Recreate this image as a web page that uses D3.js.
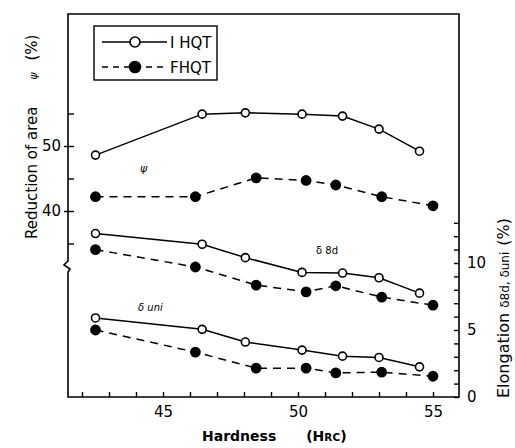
<!DOCTYPE html>
<html>
<head>
<meta charset="utf-8">
<script src="https://cdn.jsdelivr.net/npm/d3@7"></script>
<style>
  body { margin: 0; background: #fff; }
  text { font-family: "DejaVu Sans", sans-serif; fill: #000; }
</style>
</head>
<body>
<script>
// hardness values (HRC) for each heat treatment
var hrcIHQT = [42.5, 46.45, 48.05, 50.15, 51.65, 53.0, 54.5];
var hrcFHQT = [42.5, 46.2, 48.45, 50.3, 51.4, 53.1, 55.0];

// reduction of area psi (%), left axis
var psiIHQT = [48.6, 54.9, 55.1, 54.9, 54.6, 52.6, 49.2];
var psiFHQT = [42.2, 42.2, 45.1, 44.7, 44.0, 42.2, 40.8];

// elongation (%), right axis
var d8dIHQT = [12.2, 11.4, 10.4, 9.3, 9.25, 8.9, 7.75];
var d8dFHQT = [11.0, 9.7, 8.35, 7.85, 8.3, 7.45, 6.85];
var duniIHQT = [5.9, 5.05, 4.1, 3.5, 3.05, 2.95, 2.25];
var duniFHQT = [5.0, 3.35, 2.15, 2.15, 1.8, 1.85, 1.55];

var xTicks = [42, 43, 44, 45, 46, 47, 48, 49, 50, 51, 52, 53, 54, 55];
var xLabels = [45, 50, 55];
var psiTicks = [35, 40, 45, 50, 55];
var psiLabels = [40, 50];
var elTicks = d3.range(0, 14);
var elLabels = [0, 5, 10];

var width = 515, height = 448;
// plot frame (note: "top" is reserved on window, so use box*)
var boxL = 68, boxR = 459, boxT = 14, boxB = 397;

var svg = d3.select("body").append("svg")
    .attr("width", width)
    .attr("height", height);

var x = d3.scaleLinear().domain([45, 55]).range([163, 433]);
var yPsi = d3.scaleLinear().domain([40, 50]).range([211, 146]);
var yEl = d3.scaleLinear().domain([0, 10]).range([397, 263]);

// frame, left side has the axis break
svg.append("path")
    .attr("d", `M${boxL},${boxT} H${boxR} V${boxB} H${boxL} V272 L${boxL+2},269 L${boxL-4},265 L${boxL},261 Z`)
    .attr("fill", "none")
    .attr("stroke", "#000")
    .attr("stroke-width", 1.6);

// bottom axis, ticks pointing in
var gx = svg.append("g")
    .attr("transform", `translate(0,${boxB})`)
    .call(d3.axisBottom(x).tickValues(xTicks).tickSizeInner(-5).tickSizeOuter(0).tickPadding(9)
        .tickFormat(d => xLabels.indexOf(d) >= 0 ? d : ""));
gx.select(".domain").remove();

var gl = svg.append("g")
    .attr("transform", `translate(${boxL},0)`)
    .call(d3.axisLeft(yPsi).tickValues(psiTicks).tickSizeInner(-6).tickSizeOuter(0).tickPadding(7)
        .tickFormat(d => psiLabels.indexOf(d) >= 0 ? d : ""));
gl.select(".domain").remove();
gl.selectAll(".tick").filter(d => psiLabels.indexOf(d) >= 0).append("line")
    .attr("x1", -4).attr("x2", 0).attr("stroke", "#000").attr("stroke-width", 1.4);

var gr = svg.append("g")
    .attr("transform", `translate(${boxR},0)`)
    .call(d3.axisRight(yEl).tickValues(elTicks).tickSizeInner(-5).tickSizeOuter(0).tickPadding(8)
        .tickFormat(d => elLabels.indexOf(d) >= 0 ? d : ""));
gr.select(".domain").remove();

[gx, gl, gr].forEach(g => {
    g.selectAll(".tick line").attr("stroke-width", 1.4);
    g.selectAll(".tick text").attr("font-size", 15).attr("font-family", "DejaVu Sans");
});

// axis titles
svg.append("text")
    .attr("x", 202).attr("y", 441)
    .attr("font-size", 14).attr("font-weight", "bold")
    .html('Hardness<tspan dx="30">(H</tspan><tspan font-size="10.5">RC</tspan>)');

svg.append("text")
    .attr("transform", "translate(37,239) rotate(-90)")
    .attr("font-size", 15)
    .html('Reduction of area <tspan dx="22" font-size="11" font-style="italic">ψ</tspan><tspan dx="12">(%)</tspan>');

svg.append("text")
    .attr("transform", "translate(509,398) rotate(-90)")
    .attr("font-size", 16)
    .html('Elongation <tspan font-size="12">δ8d, δuni</tspan><tspan dx="6">(%)</tspan>');

// series
var series = [
    { xs: hrcIHQT, ys: psiIHQT, y: yPsi, open: true },
    { xs: hrcFHQT, ys: psiFHQT, y: yPsi, open: false },
    { xs: hrcIHQT, ys: d8dIHQT, y: yEl, open: true },
    { xs: hrcFHQT, ys: d8dFHQT, y: yEl, open: false },
    { xs: hrcIHQT, ys: duniIHQT, y: yEl, open: true },
    { xs: hrcFHQT, ys: duniFHQT, y: yEl, open: false }
];

series.forEach(s => {
    var pts = s.xs.map((v, i) => [x(v), s.y(s.ys[i])]);
    svg.append("path")
        .attr("d", d3.line()(pts))
        .attr("fill", "none")
        .attr("stroke", "#000")
        .attr("stroke-width", 1.5)
        .attr("stroke-dasharray", s.open ? null : "8,6");
    svg.append("g").selectAll("circle")
        .data(pts)
        .enter().append("circle")
        .attr("cx", d => d[0])
        .attr("cy", d => d[1])
        .attr("r", s.open ? 4 : 4.6)
        .attr("fill", s.open ? "#fff" : "#000")
        .attr("stroke", "#000")
        .attr("stroke-width", 1.6);
});

// curve labels
svg.append("text").attr("x", 140).attr("y", 172).attr("font-size", 11).attr("font-style", "italic").text("ψ");
svg.append("text").attr("x", 316).attr("y", 254).attr("font-size", 10).text("δ 8d");
svg.append("text").attr("x", 138).attr("y", 311).attr("font-size", 10).attr("font-style", "italic").text("δ uni");

// legend
var lg = svg.append("g");
lg.append("rect")
    .attr("x", 94).attr("y", 26).attr("width", 123).attr("height", 54)
    .attr("fill", "#fff").attr("stroke", "#000").attr("stroke-width", 1.4);
var legendItems = [
    { name: "I HQT", open: true, y: 42 },
    { name: "FHQT", open: false, y: 67 }
];
legendItems.forEach(d => {
    lg.append("line")
        .attr("x1", 102).attr("x2", 167).attr("y1", d.y).attr("y2", d.y)
        .attr("stroke", "#000").attr("stroke-width", 1.5)
        .attr("stroke-dasharray", d.open ? null : "6,5");
    lg.append("circle")
        .attr("cx", 135).attr("cy", d.y).attr("r", d.open ? 5 : 5.5)
        .attr("fill", d.open ? "#fff" : "#000")
        .attr("stroke", "#000").attr("stroke-width", 1.6);
    lg.append("text")
        .attr("x", 170).attr("y", d.y + 6)
        .attr("font-size", 15)
        .text(d.name);
});
</script>
</body>
</html>
